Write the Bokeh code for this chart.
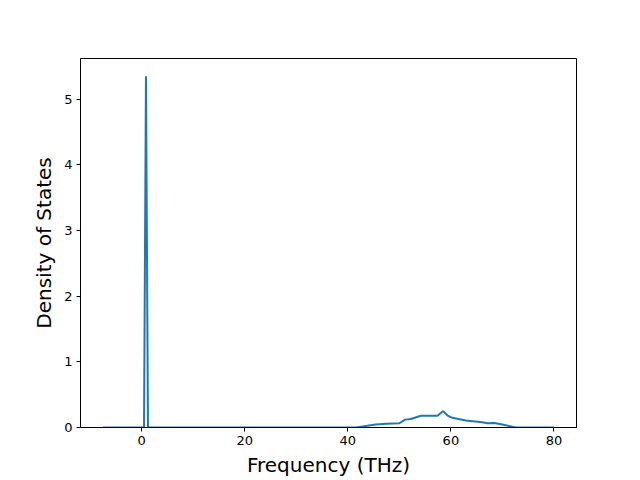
from bokeh.plotting import figure
from bokeh.models import Range1d, FixedTicker
from bokeh.embed import file_html
from bokeh.resources import INLINE

freq = [-7.5, 0.0, 0.45, 0.83, 1.22, 20.0, 41.6, 45.4, 47.4, 50.0, 51.1, 52.2, 54.2,
        57.4, 58.5, 59.4, 60.3, 62.9, 66.1, 67.1, 68.4, 70.0, 72.6, 80.0]
dos = [0.0, 0.0, 0.0, 5.35, 0.0, 0.0, 0.0, 0.045, 0.056, 0.065, 0.12, 0.13, 0.18,
       0.18, 0.25, 0.18, 0.147, 0.106, 0.08, 0.065, 0.07, 0.045, 0.0, 0.0]
x_ticks = [0, 20, 40, 60, 80]
y_ticks = [0, 1, 2, 3, 4, 5]

p = figure(width=640, height=480, output_backend="svg", toolbar_location=None,
           x_range=Range1d(-11.875, 84.375), y_range=Range1d(0, 5.62),
           min_border_left=80, min_border_right=64, min_border_top=58, min_border_bottom=53)
p.line(freq, dos, line_color="#1f77b4", line_width=2)

p.xgrid.visible = False
p.ygrid.visible = False
p.outline_line_color = "black"
p.outline_line_width = 1
p.background_fill_color = "white"
p.border_fill_color = "white"

p.xaxis.ticker = FixedTicker(ticks=x_ticks)
p.yaxis.ticker = FixedTicker(ticks=y_ticks)
for ax in (p.xaxis[0], p.yaxis[0]):
    ax.axis_line_color = "black"
    ax.major_tick_line_color = "black"
    ax.major_tick_out = 4
    ax.major_tick_in = 0
    ax.minor_tick_line_color = None
    ax.major_label_text_font = "DejaVu Sans"
    ax.major_label_text_font_size = "13px"
    ax.major_label_text_color = "black"
    ax.axis_label_text_font = "DejaVu Sans"
    ax.axis_label_text_font_size = "20px"
    ax.axis_label_text_font_style = "normal"
    ax.axis_label_text_color = "black"
    ax.major_label_standoff = 4
    ax.axis_label_standoff = 5
p.xaxis.axis_label = "Frequency (THz)"
p.yaxis.axis_label = "Density of States"

open("out.html", "w").write(file_html(p, INLINE))
